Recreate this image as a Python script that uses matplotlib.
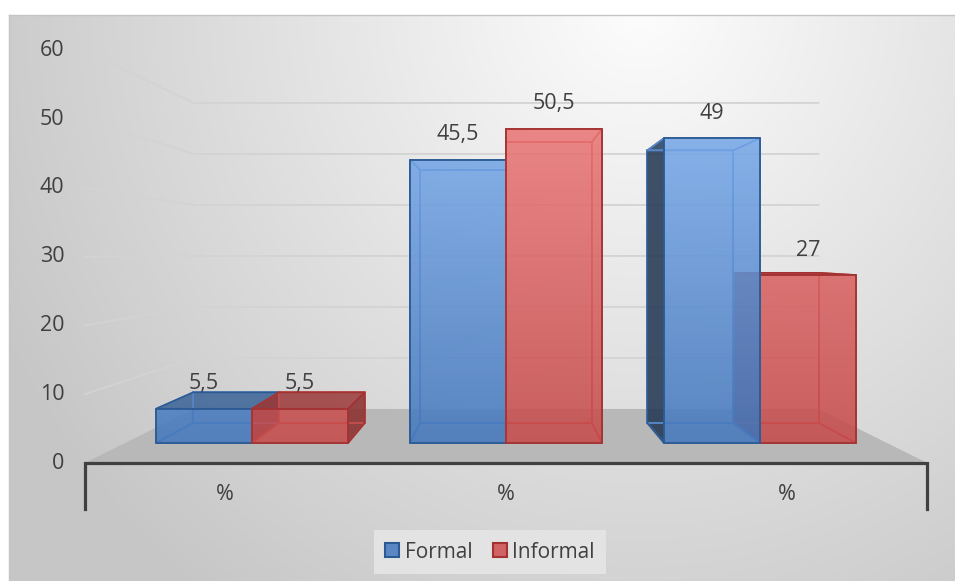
import numpy as np
import matplotlib.pyplot as plt
from matplotlib.patches import Polygon, Patch

# data
categories = ['%', '%', '%']
series_names = ['Formal', 'Informal']
formal = [5.5, 45.5, 49]
informal = [5.5, 50.5, 27]
label_text = [['5,5', '45,5', '49'], ['5,5', '50,5', '27']]
y_ticks = [0, 10, 20, 30, 40, 50, 60]

plt.rcParams['font.family'] = ['Open Sans', 'DejaVu Sans']
TXT = '#404040'

# perspective setup (category units on x, value units on y)
W, H = 955, 581
PX_X = 254.0          # pixels per category
PX_Y = 6.22           # pixels per value unit (front plane)
X0_PX, Y0_PX = 125, 443
VX, VV = 1.5, 30.4    # vanishing point
T_BAR = 0.106         # depth of the bars
T_WALL = 0.18         # back wall
T_FRONT = -0.106      # front edge of floor
GAP = 0.122
BW = (1 - 2 * GAP) / 2
GRAD_TOP = 55.0       # value where front-face gradient reaches its light end


def proj(x, v, t):
    return x + t * (VX - x), v + t * (VV - v)


fig = plt.figure(figsize=(W / 100, H / 100), dpi=100)

# background gradient
bg = fig.add_axes([0, 0, 1, 1])
bg.set_xlim(0, W)
bg.set_ylim(H, 0)
bg.axis('off')
xx, yy = np.meshgrid(np.arange(W), np.arange(H))
d = np.sqrt(((xx - 640) / 720.0) ** 2 + (yy / 760.0) ** 2)
g = (253 - 55 * np.clip(d, 0, 1)) / 255.0
img = np.dstack([g, g, g])
img[:15, :] = 1.0
img[:, :9] = 1.0
bg.imshow(img, extent=(0, W, H, 0), interpolation='bilinear')
bg.plot([9, W], [15, 15], color='#c4c4c4', lw=1)
bg.plot([9, 9], [15, H], color='#c4c4c4', lw=1)

ax = fig.add_axes([0, 0, 1, 1])
ax.patch.set_alpha(0)
ax.axis('off')
xlim = (-X0_PX / PX_X, (W - X0_PX) / PX_X)
ylim = ((Y0_PX - H) / PX_Y, Y0_PX / PX_Y)

ncat = len(categories)

# gridlines: side wall + back wall
for v in y_ticks[1:]:
    p1 = proj(0, v, T_FRONT)
    p2 = proj(0, v, T_WALL)
    p3 = proj(ncat, v, T_WALL)
    ax.plot([p1[0], p2[0], p3[0]], [p1[1], p2[1], p3[1]], color='#d3d3d3', lw=1.3, zorder=1)

# floor
floor = [proj(0, 0, T_FRONT), proj(ncat, 0, T_FRONT), proj(ncat, 0, T_WALL), proj(0, 0, T_WALL)]
ax.add_patch(Polygon(floor, closed=True, facecolor='#b8b8b8', edgecolor='none', zorder=2))

# y tick labels
for v in y_ticks:
    px, pv = proj(0, v, T_FRONT)
    ax.annotate(str(v), (px, pv), xytext=(-20, 0), textcoords='offset pixels',
                ha='right', va='center', fontsize=15.5, color=TXT)

# axis line and end ticks
a0 = proj(0, 0, T_FRONT)
a1 = proj(ncat, 0, T_FRONT)
drop = 46 / PX_Y
ax.plot([a0[0], a0[0], a1[0], a1[0]], [a0[1] - drop, a0[1], a1[1], a1[1] - drop],
        color='#404040', lw=2.3, solid_joinstyle='miter', zorder=3)

for i, c in enumerate(categories):
    px, pv = proj(i + 0.5, 0, T_FRONT)
    ax.annotate(c, (px, pv), xytext=(0, -31), textcoords='offset pixels',
                ha='center', va='center', fontsize=15.5, color=TXT)

styles = [
    dict(lo=(68, 119, 188), hi=(125, 174, 238), front='#4f84c9', side='#22364f',
         top='#3d6497', edge='#2c5a92', inner='#5585c6'),
    dict(lo=(198, 75, 75), hi=(238, 122, 122), front='#cd4e4e', side='#8a2e2e',
         top='#9c3c3c', edge='#a33333', inner='#c44c4c'),
]


def front_gradient(st):
    f = np.linspace(0, 1, 256)[:, None]
    lo = np.array(st['lo']) / 255.0
    hi = np.array(st['hi']) / 255.0
    rgb = lo[None, None, :] * (1 - f[..., None]) + hi[None, None, :] * f[..., None]
    return rgb


def draw_bar(x0, h, st, z):
    x1 = x0 + BW
    F = [(x0, 0), (x1, 0), (x1, h), (x0, h)]
    B = [proj(x, v, T_BAR) for x, v in F]
    faces = {
        'back': B,
        'bottom': [F[0], F[1], B[1], B[0]],
        'left': [F[0], F[3], B[3], B[0]],
        'right': [F[1], F[2], B[2], B[1]],
        'top': [F[3], F[2], B[2], B[3]],
    }
    vis_left = x0 > VX
    vis_right = x1 < VX
    vis_top = h < VV
    for name in ['back', 'bottom', 'left', 'right', 'top']:
        poly = faces[name]
        if name == 'left' and vis_left or name == 'right' and vis_right:
            fc, a, ec = st['side'], 0.85, st['edge']
        elif name == 'top' and vis_top:
            fc, a, ec = st['top'], 0.85, st['edge']
        else:
            fc, a, ec = st['front'], 0.12, st['inner']
        ax.add_patch(Polygon(poly, closed=True, facecolor=fc, alpha=a, edgecolor='none', zorder=z))
        ax.add_patch(Polygon(poly, closed=True, facecolor='none', edgecolor=ec, lw=1.2, zorder=z + 0.1))
    clip = Polygon(F, closed=True, facecolor='none', edgecolor='none', transform=ax.transData)
    ax.add_patch(clip)
    im = ax.imshow(front_gradient(st), extent=(x0, x1, 0, GRAD_TOP), origin='lower',
                   aspect='auto', alpha=0.85, zorder=z + 0.2, interpolation='bilinear')
    im.set_clip_path(clip)
    ax.add_patch(Polygon(F, closed=True, facecolor='none', edgecolor=st['edge'], lw=1.3, zorder=z + 0.3))


values = [formal, informal]
bars = []
for i in range(ncat):
    for j in range(2):
        x0 = i + GAP + j * BW
        bars.append((abs(x0 + BW / 2 - VX), x0, values[j][i], j))
bars.sort(key=lambda b: -b[0])
for k, (_, x0, h, j) in enumerate(bars):
    draw_bar(x0, h, styles[j], 5 + k)

# data labels
for j in range(2):
    for i in range(ncat):
        x0 = i + GAP + j * BW
        ax.annotate(label_text[j][i], (x0 + BW / 2, values[j][i]), xytext=(0, 25),
                    textcoords='offset pixels', ha='center', va='center',
                    fontsize=15.5, color=TXT, zorder=30)

ax.set_xlim(*xlim)
ax.set_ylim(*ylim)

handles = [Patch(facecolor='#5b87c5', edgecolor='#2c5a92', lw=1.5),
           Patch(facecolor='#d06363', edgecolor='#a33333', lw=1.5)]
leg = fig.legend(handles, series_names, loc='center', bbox_to_anchor=(490 / W, 1 - 552 / H),
                 ncol=2, fontsize=15, frameon=True, fancybox=False, handlelength=0.67,
                 handleheight=0.67, handletextpad=0.25, columnspacing=1.0, borderpad=0.55)
leg.get_frame().set_facecolor('#e3e3e3')
leg.get_frame().set_edgecolor('none')
leg.get_frame().set_alpha(1)
for t in leg.get_texts():
    t.set_color(TXT)

fig.savefig('out.png', dpi=100)
